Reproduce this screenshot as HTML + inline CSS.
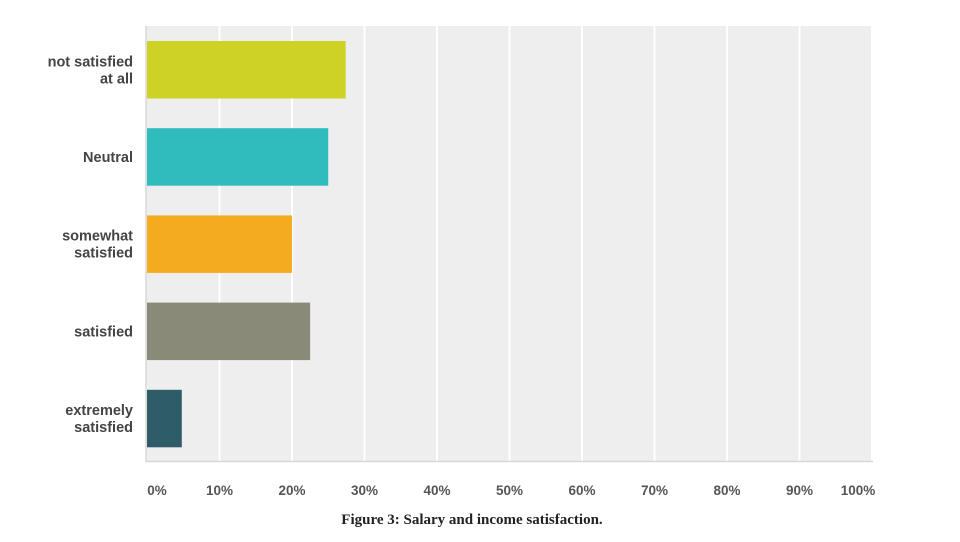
<!DOCTYPE html>
<html><head><meta charset="utf-8"><style>
body{margin:0;background:#fff;width:960px;height:537px;overflow:hidden;font-family:"Liberation Sans",sans-serif}
</style></head><body>
<svg id="chart" width="960" height="537" xmlns="http://www.w3.org/2000/svg">
<rect x="146" y="26" width="727" height="436" fill="#efeeee"/>
<g id="grid"></g><g id="bars"></g><g id="ylabels"></g><g id="xlabels"></g>
<line x1="146" y1="26" x2="146" y2="462" stroke="#d8d8d8" stroke-width="1.5"/>
<line x1="146" y1="461.5" x2="873" y2="461.5" stroke="#d8d8d8" stroke-width="1.5"/>
<text x="472" y="524" text-anchor="middle" font-family="'Liberation Serif',serif" font-weight="bold" font-size="15" fill="#222">Figure 3: Salary and income satisfaction.</text>
</svg>
<script>
const categories=[["not satisfied","at all"],["Neutral"],["somewhat","satisfied"],["satisfied"],["extremely","satisfied"]];
const values=[27.4,25,20,22.5,4.8];
const colors=["#cdd224","#30bbbd","#f5ab1f","#8a8a78","#2e5d68"];
const ticks=[0,10,20,30,40,50,60,70,80,90,100];
const NS="http://www.w3.org/2000/svg";
const x0=147,x1=872;
const xs=v=>x0+(x1-x0)*v/100;
const ys=i=>41+i*87.2;
const bh=57.5;
function mk(t,a,p){const e=document.createElementNS(NS,t);for(const k in a)e.setAttribute(k,a[k]);document.getElementById(p).appendChild(e);return e;}
ticks.forEach((t,i)=>{
 if(t>0){const l=mk('line',{x1:xs(t),x2:xs(t),y1:26,y2:461,stroke:'#fff','stroke-width':2},'grid');
 
 }
 const tx=mk('text',{x:xs(t)+ (t===0?10:t===100?-14:0),y:495,'text-anchor':'middle','font-size':13.5,'font-weight':'bold',fill:'#555'},'xlabels');
 tx.textContent=t+'%';
 
 
});
values.forEach((v,i)=>{
 const r=mk('rect',{x:x0,y:ys(i),width:xs(v)-x0,height:bh,fill:colors[i]},'bars');
 
 
 const lines=categories[i];const cy=ys(i)+bh/2;
 lines.forEach((s,j)=>{
  const t=mk('text',{x:133,y:cy+5+(j-(lines.length-1)/2)*17,'text-anchor':'end','font-size':14.5,'font-weight':'bold',fill:'#444'},'ylabels');
  t.textContent=s;
  
  
 });
});
</script>
</body></html>
